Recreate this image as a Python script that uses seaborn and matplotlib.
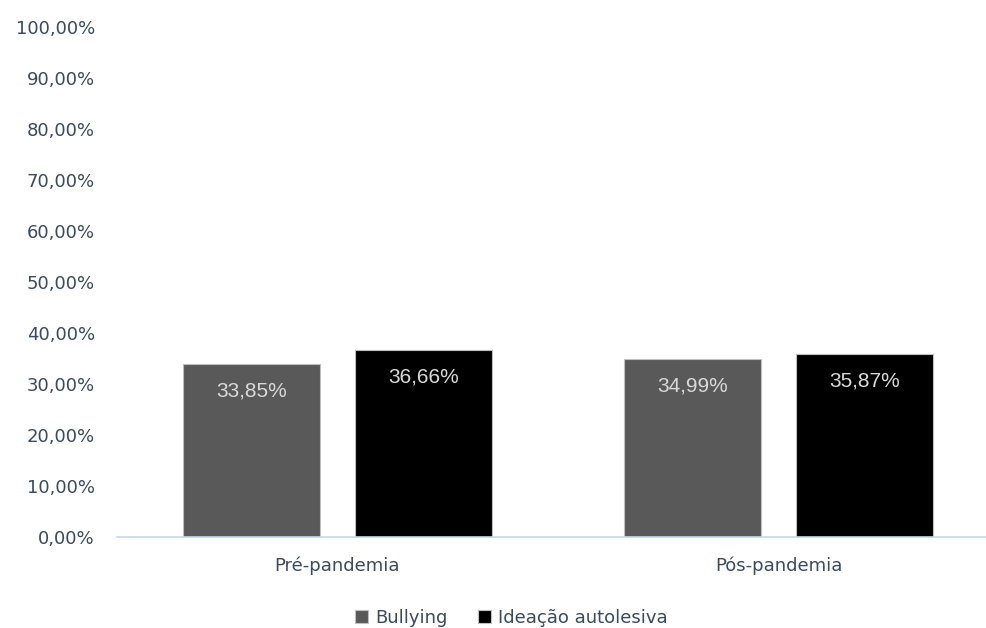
import matplotlib
matplotlib.use('Agg')
import matplotlib.pyplot as plt
import pandas as pd
import seaborn as sns

periods = ['Pré-pandemia', 'Pós-pandemia']
series = ['Bullying', 'Ideação autolesiva']
bullying = [0.3385, 0.3499]
ideacao = [0.3666, 0.3587]
y_ticks = [0.0, 0.1, 0.2, 0.3, 0.4, 0.5, 0.6, 0.7, 0.8, 0.9, 1.0]

df = pd.DataFrame({
    'Periodo': periods * 2,
    'Serie': [series[0]] * 2 + [series[1]] * 2,
    'Valor': bullying + ideacao,
})

sns.set_style('white')
plt.rcParams['font.family'] = ['DejaVu Sans']

txt = '#3b4a5c'
fig = plt.figure(figsize=(9.87, 6.28), dpi=100)
ax = fig.add_axes([117 / 987, 1 - 537 / 628, 870 / 987, 510 / 628])

sns.barplot(data=df, x='Periodo', y='Valor', hue='Serie',
            palette=['#595959', '#000000'], width=0.78, gap=0.2,
            edgecolor='#bfbfbf', linewidth=0.8, ax=ax)

def fmt(v):
    return f'{v * 100:.2f}%'.replace('.', ',')

for cont in ax.containers:
    for bar in cont:
        h = bar.get_height()
        ax.annotate(fmt(h), (bar.get_x() + bar.get_width() / 2, h),
                    xytext=(0, -19.5), textcoords='offset points',
                    ha='center', va='center', color='#d9d9d9',
                    fontsize=15, family='Liberation Sans')

ax.set_ylim(0, 1)
ax.set_xlim(-0.5, 870 / 441 - 0.5)
ax.set_yticks(y_ticks)
ax.set_yticklabels([fmt(t) for t in y_ticks])
ax.set_xlabel('')
ax.set_ylabel('')
ax.tick_params(axis='y', length=0, pad=16, labelsize=13, labelcolor=txt)
ax.tick_params(axis='x', length=0, pad=14, labelsize=13, labelcolor=txt)
for s in ['top', 'right', 'left']:
    ax.spines[s].set_visible(False)
ax.spines['bottom'].set_color('#c5d7ee')
ax.spines['bottom'].set_linewidth(1.2)

ax.get_legend().remove()
handles, labels = ax.get_legend_handles_labels()
leg = fig.legend(handles, labels, loc='lower center', bbox_to_anchor=(0.518, -0.024),
                 ncol=2, frameon=False, fontsize=13, handlelength=0.7,
                 handleheight=0.7, handletextpad=0.4, columnspacing=1.7)
for t in leg.get_texts():
    t.set_color(txt)

fig.savefig('out.png', dpi=100)
